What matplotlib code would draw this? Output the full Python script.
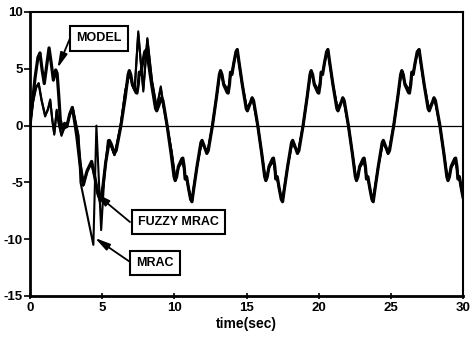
import matplotlib
matplotlib.use("Agg")
from matplotlib import pyplot as plt

plt.rcParams["font.family"] = ["Liberation Sans", "DejaVu Sans"]
plt.rcParams["font.weight"] = "bold"
plt.rcParams["axes.unicode_minus"] = False

# reference model output
model_t = [0.0, 0.15, 0.35, 0.55, 0.69, 0.85, 0.99, 1.15, 1.32, 1.47, 1.62, 1.78, 1.88,
           2.0, 2.1, 2.25, 2.4, 2.55, 2.75, 2.93, 3.1, 3.25, 3.45, 3.7, 3.95, 4.27, 4.5,
           4.7, 4.88, 5.05, 5.25, 5.5, 5.62, 5.85, 5.97, 6.3, 6.6, 6.8, 6.88, 6.98, 7.1,
           7.35, 7.41, 7.5, 7.57, 7.67, 7.8, 7.95, 8.08,
           8.20, 8.43, 8.70, 8.78, 8.93, 9.11, 9.21, 9.50, 9.78, 9.98, 10.06, 10.16, 10.28,
           10.53, 10.59, 10.68, 10.75, 10.85, 10.98, 11.13, 11.22,
           11.34, 11.57, 11.84, 11.92, 12.07, 12.25, 12.35, 12.64, 12.92, 13.12, 13.20,
           13.30, 13.42, 13.67, 13.73, 13.82, 13.89, 13.99, 14.12, 14.27, 14.36,
           14.48, 14.71, 14.98, 15.06, 15.21, 15.39, 15.49, 15.78, 16.06, 16.26, 16.34,
           16.44, 16.56, 16.81, 16.87, 16.96, 17.03, 17.13, 17.26, 17.41, 17.50,
           17.62, 17.85, 18.12, 18.20, 18.35, 18.53, 18.63, 18.92, 19.20, 19.40, 19.48,
           19.58, 19.70, 19.95, 20.01, 20.10, 20.17, 20.27, 20.40, 20.55, 20.64,
           20.76, 20.99, 21.26, 21.34, 21.49, 21.67, 21.77, 22.06, 22.34, 22.54, 22.62,
           22.72, 22.84, 23.09, 23.15, 23.24, 23.31, 23.41, 23.54, 23.69, 23.78,
           23.90, 24.13, 24.40, 24.48, 24.63, 24.81, 24.91, 25.20, 25.48, 25.68, 25.76,
           25.86, 25.98, 26.23, 26.29, 26.38, 26.45, 26.55, 26.68, 26.83, 26.96,
           27.08, 27.31, 27.58, 27.66, 27.81, 27.99, 28.09, 28.40, 28.68, 28.88, 28.96,
           29.06, 29.18, 29.43, 29.49, 29.58, 29.65, 29.75, 29.88, 30.0]
model_y = [0.0, 1.8, 4.2, 6.0, 6.4, 4.8, 3.7, 5.2, 6.84, 5.5, 4.0, 4.9, 4.6,
           2.5, 0.5, -0.3, 0.2, -0.1, 1.0, 1.6, 0.3, -1.0, -3.2, -5.2, -4.0, -3.15, -4.6,
           -6.0, -6.6, -5.4, -3.2, -1.3, -1.6, -2.45, -2.2, 0.0, 2.5, 4.5, 4.84, 4.5, 3.6,
           2.9, 2.86, 3.6, 4.7, 4.5, 5.5, 6.5, 6.7,
           5.6, 3.6, 1.5, 1.3, 1.8, 2.45, 2.2, 0.0, -2.5, -4.5, -4.84, -4.5, -3.6,
           -2.9, -2.86, -3.6, -4.7, -4.5, -5.5, -6.5, -6.7,
           -5.6, -3.6, -1.5, -1.3, -1.8, -2.45, -2.2, 0.0, 2.5, 4.5, 4.84,
           4.5, 3.6, 2.9, 2.86, 3.6, 4.7, 4.5, 5.5, 6.5, 6.7,
           5.6, 3.6, 1.5, 1.3, 1.8, 2.45, 2.2, 0.0, -2.5, -4.5, -4.84,
           -4.5, -3.6, -2.9, -2.86, -3.6, -4.7, -4.5, -5.5, -6.5, -6.7,
           -5.6, -3.6, -1.5, -1.3, -1.8, -2.45, -2.2, 0.0, 2.5, 4.5, 4.84,
           4.5, 3.6, 2.9, 2.86, 3.6, 4.7, 4.5, 5.5, 6.5, 6.7,
           5.6, 3.6, 1.5, 1.3, 1.8, 2.45, 2.2, 0.0, -2.5, -4.5, -4.84,
           -4.5, -3.6, -2.9, -2.86, -3.6, -4.7, -4.5, -5.5, -6.5, -6.7,
           -5.6, -3.6, -1.5, -1.3, -1.8, -2.45, -2.2, 0.0, 2.5, 4.5, 4.84,
           4.5, 3.6, 2.9, 2.86, 3.6, 4.7, 4.5, 5.5, 6.5, 6.7,
           5.6, 3.6, 1.5, 1.3, 1.8, 2.45, 2.2, 0.0, -2.5, -4.5, -4.84,
           -4.5, -3.6, -2.9, -2.86, -3.6, -4.7, -4.5, -5.5, -6.3]

# start-up of the two adaptive plants
mrac_t = [0.0, 0.2, 0.42, 0.6, 0.8, 1.05, 1.25, 1.4, 1.55, 1.68, 1.85, 2.0, 2.18, 2.35,
          2.55, 2.75, 2.96, 3.15, 3.35, 3.5, 4.39, 4.6, 4.93, 5.15, 5.4, 5.62, 5.85,
          6.05, 6.28, 6.6, 6.9, 7.1, 7.25, 7.5, 7.68, 7.85, 8.13, 8.45, 8.78, 9.06,
          9.25, 9.5, 9.82]
mrac_y = [0.0, 2.0, 3.3, 3.74, 2.3, 0.9, 1.4, 2.2, 0.5, -0.8, 1.4, 0.2, -0.9, -0.3,
          -0.1, 0.9, 1.6, 0.4, -0.8, -5.0, -10.5, 0.0, -9.2, -4.5, -1.3, -1.8, -2.6,
          -1.5, 0.0, 3.0, 4.7, 3.6, 3.2, 8.3, 5.5, 3.0, 7.7, 4.0, 1.53, 3.45,
          1.8, 0.0, -2.3]

fuzzy_t = [0.0, 0.2, 0.42, 0.6, 0.8, 1.05, 1.25, 1.4, 1.55, 1.68, 1.85, 2.0, 2.18, 2.35,
           2.55, 2.75, 2.96, 3.15, 3.35, 3.5, 3.68, 3.95, 4.25, 4.5, 4.85, 5.05, 5.25,
           5.45, 5.62, 5.85, 6.05, 6.28, 6.6, 6.9, 7.1, 7.25, 7.5, 7.68, 7.85, 8.13,
           8.45, 8.78, 9.06, 9.25, 9.5, 9.82]
fuzzy_y = [0.0, 2.1, 3.4, 3.7, 2.2, 0.8, 1.5, 2.3, 0.4, -0.7, 1.3, 0.1, -0.8, -0.2,
           0.0, 1.0, 1.5, 0.3, -0.9, -3.3, -5.3, -4.1, -3.3, -4.6, -6.8, -5.4, -3.2,
           -1.3, -1.8, -2.6, -1.4, 0.0, 3.1, 4.6, 3.5, 3.1, 8.1, 5.6, 3.2, 7.6,
           3.9, 1.6, 3.3, 1.7, 0.0, -2.4]

# both plants after they lock on to the model
plant_t = [10.06, 10.16, 10.28, 10.53, 10.59, 10.68, 10.75, 10.85, 10.98, 11.13, 11.22,
           11.34, 11.57, 11.84, 11.92, 12.07, 12.25, 12.35, 12.64, 12.92, 13.12, 13.20,
           13.30, 13.42, 13.67, 13.73, 13.82, 13.89, 13.99, 14.12, 14.27, 14.36,
           14.48, 14.71, 14.98, 15.06, 15.21, 15.39, 15.49, 15.78, 16.06, 16.26, 16.34,
           16.44, 16.56, 16.81, 16.87, 16.96, 17.03, 17.13, 17.26, 17.41, 17.50,
           17.62, 17.85, 18.12, 18.20, 18.35, 18.53, 18.63, 18.92, 19.20, 19.40, 19.48,
           19.58, 19.70, 19.95, 20.01, 20.10, 20.17, 20.27, 20.40, 20.55, 20.64,
           20.76, 20.99, 21.26, 21.34, 21.49, 21.67, 21.77, 22.06, 22.34, 22.54, 22.62,
           22.72, 22.84, 23.09, 23.15, 23.24, 23.31, 23.41, 23.54, 23.69, 23.78,
           23.90, 24.13, 24.40, 24.48, 24.63, 24.81, 24.91, 25.20, 25.48, 25.68, 25.76,
           25.86, 25.98, 26.23, 26.29, 26.38, 26.45, 26.55, 26.68, 26.83, 26.96,
           27.08, 27.31, 27.58, 27.66, 27.81, 27.99, 28.09, 28.40, 28.68, 28.88, 28.96,
           29.06, 29.18, 29.43, 29.49, 29.58, 29.65, 29.75, 29.88, 30.0]
plant_y = [-4.6, -4.3, -3.7, -3.2, -3.2, -3.8, -4.5, -4.6, -5.5, -6.4, -6.6,
           -5.5, -3.6, -1.8, -1.6, -1.9, -2.2, -2.0, 0.0, 2.5, 4.3, 4.6,
           4.3, 3.7, 3.2, 3.2, 3.8, 4.5, 4.6, 5.5, 6.4, 6.6,
           5.5, 3.6, 1.8, 1.6, 1.9, 2.2, 2.0, 0.0, -2.5, -4.3, -4.6,
           -4.3, -3.7, -3.2, -3.2, -3.8, -4.5, -4.6, -5.5, -6.4, -6.6,
           -5.5, -3.6, -1.8, -1.6, -1.9, -2.2, -2.0, 0.0, 2.5, 4.3, 4.6,
           4.3, 3.7, 3.2, 3.2, 3.8, 4.5, 4.6, 5.5, 6.4, 6.6,
           5.5, 3.6, 1.8, 1.6, 1.9, 2.2, 2.0, 0.0, -2.5, -4.3, -4.6,
           -4.3, -3.7, -3.2, -3.2, -3.8, -4.5, -4.6, -5.5, -6.4, -6.6,
           -5.5, -3.6, -1.8, -1.6, -1.9, -2.2, -2.0, 0.0, 2.5, 4.3, 4.6,
           4.3, 3.7, 3.2, 3.2, 3.8, 4.5, 4.6, 5.5, 6.4, 6.6,
           5.5, 3.6, 1.8, 1.6, 1.9, 2.2, 2.0, 0.0, -2.5, -4.3, -4.6,
           -4.3, -3.7, -3.2, -3.2, -3.8, -4.5, -4.6, -5.5, -6.2]

x_ticks = [0, 5, 10, 15, 20, 25, 30]
y_ticks = [-15, -10, -5, 0, 5, 10]

fig = plt.figure(figsize=(4.72, 3.38), dpi=100)
ax = fig.add_axes([30/472, 42/338, 433/472, 284/338])

ax.axhline(0, color="k", lw=0.9)
ax.plot(mrac_t + plant_t, mrac_y + plant_y, "k", lw=1.5, solid_joinstyle="round")
ax.plot(fuzzy_t + plant_t, fuzzy_y + plant_y, "k", lw=1.5, solid_joinstyle="round")
ax.plot(model_t, model_y, "k", lw=2.3, solid_joinstyle="round")

ax.set_xlim(0, 30)
ax.set_ylim(-15, 10)
ax.set_xticks(x_ticks)
ax.set_yticks(y_ticks)
ax.tick_params(axis="x", direction="inout", length=5, width=1.2, pad=2, labelsize=9.5)
ax.tick_params(axis="y", direction="out", length=4, width=1.2, pad=1, labelsize=9.5)
for side in ["left", "bottom"]:
    ax.spines[side].set_linewidth(2.0)
for side in ["top", "right"]:
    ax.spines[side].set_linewidth(1.5)
ax.set_xlabel("time(sec)", fontsize=10, fontweight="bold", labelpad=2)

box = dict(boxstyle="square,pad=0.5", fc="white", ec="k", lw=1.5)
arrow = dict(arrowstyle="-|>,head_length=0.9,head_width=0.22", color="k", lw=1.3,
             mutation_scale=10, shrinkA=0, shrinkB=0)

ax.text(4.78, 7.67, "MODEL", ha="center", va="center", fontsize=9, bbox=box, zorder=5)
ax.annotate("", xy=(1.91, 5.07), xytext=(2.84, 7.89), arrowprops=arrow, zorder=4)

ax.text(10.29, -8.49, "FUZZY MRAC", ha="center", va="center", fontsize=9, bbox=box, zorder=5)
ax.annotate("", xy=(4.5, -5.93), xytext=(6.93, -8.49), arrowprops=arrow, zorder=4)

ax.text(8.66, -12.1, "MRAC", ha="center", va="center", fontsize=9, bbox=box, zorder=5)
ax.annotate("", xy=(4.5, -9.89), xytext=(6.93, -12.0), arrowprops=arrow, zorder=4)

fig.savefig("out.png", dpi=100)
